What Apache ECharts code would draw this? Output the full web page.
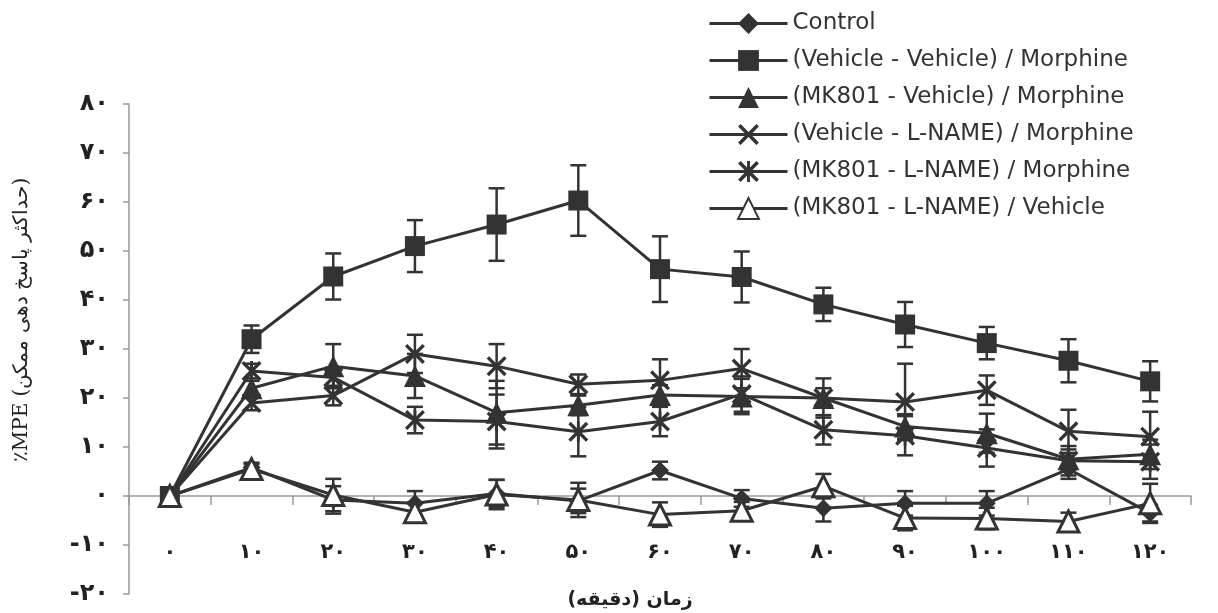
<!DOCTYPE html>
<html>
<head>
<meta charset="utf-8">
<script src="https://cdn.jsdelivr.net/npm/echarts@6/dist/echarts.min.js"></script>
<style>
html,body{margin:0;padding:0;background:#fff;}
#chart{width:1218px;height:613px;}
</style>
</head>
<body>
<div id="chart"></div>
<script>
// ---- data ----
var categories = [0, 10, 20, 30, 40, 50, 60, 70, 80, 90, 100, 110, 120];
var seriesNames = [
  'Control',
  '(Vehicle - Vehicle) / Morphine',
  '(MK801 - Vehicle) / Morphine',
  '(Vehicle - L-NAME) / Morphine',
  '(MK801 - L-NAME) / Morphine',
  '(MK801 - L-NAME) / Vehicle'
];
var control      = [0, 5.8, -0.8, -1.5, 0.5, -1.0, 5.2, -0.5, -2.5, -1.5, -1.5, 5.5, -3.5];
var controlErr   = [0, 1.0, 2.8, 2.5, 2.8, 2.5, 1.8, 1.7, 2.7, 2.5, 2.5, 2.0, 1.7];
var vehVeh       = [0, 32.0, 44.8, 51.0, 55.4, 60.3, 46.3, 44.7, 39.1, 35.0, 31.2, 27.6, 23.4];
var vehVehErr    = [0, 2.8, 4.7, 5.3, 7.4, 7.2, 6.7, 5.2, 3.4, 4.6, 3.3, 4.4, 4.1];
var mkVeh        = [0, 22.0, 26.5, 24.5, 17.0, 18.5, 20.6, 20.3, 20.0, 14.2, 12.8, 7.5, 8.5];
var mkVehErr     = [0, 1.5, 4.5, 4.5, 6.5, 2.0, 2.0, 3.6, 4.0, 2.5, 4.0, 2.0, 3.0];
var vehLname     = [0, 19.0, 20.5, 29.0, 26.5, 22.8, 23.6, 26.0, 20.0, 19.2, 21.6, 13.2, 12.1];
var vehLnameErr  = [0, 1.5, 2.0, 3.9, 4.5, 2.0, 4.3, 4.0, 2.0, 7.8, 3.0, 4.4, 5.1];
var mkLname      = [0, 25.5, 24.2, 15.5, 15.2, 13.1, 15.2, 20.8, 13.5, 12.3, 9.8, 7.2, 7.0];
var mkLnameErr   = [0, 1.5, 2.0, 2.7, 5.5, 5.0, 3.0, 3.6, 3.0, 4.0, 3.8, 3.0, 3.5];
var mkLnameVeh   = [0, 5.5, 0.2, -3.3, 0.3, -0.8, -3.8, -3.0, 2.0, -4.5, -4.6, -5.2, -1.5];
var mkLnameVehErr= [0, 1.0, 3.3, 2.0, 3.0, 3.5, 2.5, 1.8, 2.5, 2.5, 2.2, 1.8, 4.0];
var yMin = -20, yMax = 80, yStep = 10;
var xAxisTitle = 'زمان (دقیقه)';
var yAxisTitle = '٪MPE (حداکثر پاسخ دهی ممکن)';

// ---- helpers ----
var faDigits = ['۰','۱','۲','۳','۴','۵','۶','۷','۸','۹'];
function toFa(v){ return String(v).replace(/[0-9]/g, function(d){ return faDigits[+d]; }); }
var xTickLabels = categories.map(toFa);

var INK = '#333';
var crossPath = 'path://M0,12 L12,0 L50,38 L88,0 L100,12 L62,50 L100,88 L88,100 L50,62 L12,100 L0,88 L38,50 Z';
var starPath = 'path://M0,12 L12,0 L50,38 L88,0 L100,12 L62,50 L100,88 L88,100 L50,62 L12,100 L0,88 L38,50 Z M43,0 L57,0 L57,100 L43,100 Z';

var values = [control, vehVeh, mkVeh, vehLname, mkLname, mkLnameVeh];
var errors = [controlErr, vehVehErr, mkVehErr, vehLnameErr, mkLnameErr, mkLnameVehErr];
var symbols = ['diamond', 'rect', 'triangle', crossPath, starPath, 'triangle'];
var sizes = [18, 20, 22, 20, 20, 21];

var errData = [];
for (var s = 0; s < values.length; s++) {
  for (var i = 0; i < categories.length; i++) {
    if (errors[s][i] > 0) errData.push([i, values[s][i] - errors[s][i], values[s][i] + errors[s][i]]);
  }
}

var series = values.map(function(v, k){
  var open = (k === 5);
  return {
    name: seriesNames[k],
    type: 'line',
    data: v,
    symbol: symbols[k],
    symbolSize: sizes[k],
    symbolKeepAspect: true,
    z: 3,
    lineStyle: {color: INK, width: 3},
    itemStyle: open ? {color: '#fff', borderColor: INK, borderWidth: 3} : {color: INK, borderWidth: 0},
    emphasis: {disabled: true},
    animation: false
  };
});
series.push({
  type: 'custom',
  name: 'err',
  data: errData,
  z: 2,
  silent: true,
  animation: false,
  encode: {x: 0, y: [1, 2]},
  renderItem: function(params, api){
    var x = api.value(0);
    var lo = api.coord([x, api.value(1)]);
    var hi = api.coord([x, api.value(2)]);
    var w = 8;
    var st = {stroke: INK, lineWidth: 2.5};
    return {type: 'group', children: [
      {type: 'line', shape: {x1: lo[0], y1: lo[1], x2: hi[0], y2: hi[1]}, style: st},
      {type: 'line', shape: {x1: lo[0]-w, y1: lo[1], x2: lo[0]+w, y2: lo[1]}, style: st},
      {type: 'line', shape: {x1: hi[0]-w, y1: hi[1], x2: hi[0]+w, y2: hi[1]}, style: st}
    ]};
  }
});

var chart = echarts.init(document.getElementById('chart'));
chart.setOption({
  backgroundColor: '#fff',
  animation: false,
  grid: {left: 129, right: 27, top: 104, bottom: 19, containLabel: false, outerBoundsMode: 'none'},
  legend: {
    data: seriesNames,
    orient: 'vertical',
    left: 703,
    top: 7,
    itemWidth: 78,
    itemHeight: 26,
    itemGap: 14,
    lineStyle: {width: 3, color: INK},
    textStyle: {fontFamily: 'DejaVu Sans', fontSize: 23, color: INK},
    selectedMode: false
  },
  xAxis: [{
    type: 'category',
    data: xTickLabels,
    boundaryGap: true,
    axisLine: {onZero: true, lineStyle: {color: '#999', width: 1.5}},
    axisTick: {show: true, length: 9, lineStyle: {color: '#999', width: 1.5}},
    axisLabel: {show: false}
  }, {
    type: 'category',
    data: xTickLabels,
    boundaryGap: true,
    position: 'bottom',
    offset: -56,
    axisLine: {show: false, onZero: false},
    axisTick: {show: false},
    axisLabel: {margin: 4, fontSize: 21, fontWeight: 'bold', color: '#222', fontFamily: 'DejaVu Sans'}
  }],
  yAxis: {
    type: 'value',
    min: yMin, max: yMax, interval: yStep,
    axisLine: {show: true, lineStyle: {color: '#999', width: 1.5}},
    axisTick: {show: true, length: 6, lineStyle: {color: '#999', width: 1.5}},
    splitLine: {show: false},
    axisLabel: {formatter: function(v){ return toFa(v); }, margin: 20, fontSize: 24, fontWeight: 'bold', color: '#222', fontFamily: 'DejaVu Sans'}
  },
  graphic: [
    {type: 'text', position: [630, 600], style: {text: xAxisTitle, textAlign: 'center', textVerticalAlign: 'middle', font: 'bold 19px "DejaVu Sans"', fill: '#222'}},
    {type: 'text', position: [22, 320], rotation: Math.PI/2, style: {text: yAxisTitle, textAlign: 'center', textVerticalAlign: 'middle', font: '20px "DejaVu Serif"', fill: '#222'}}
  ],
  series: series
});
</script>
</body>
</html>
